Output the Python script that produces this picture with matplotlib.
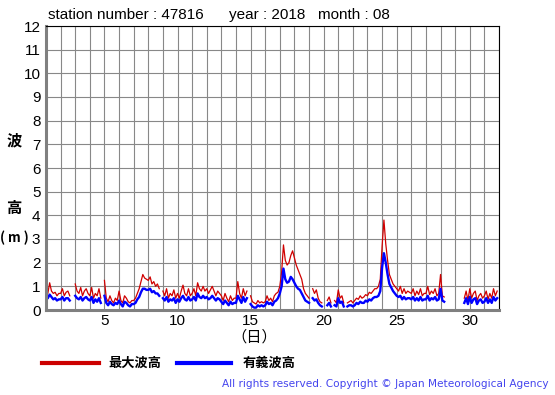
import numpy as np
import matplotlib
matplotlib.use('Agg')
import matplotlib.pyplot as plt
from matplotlib.lines import Line2D

nan = np.nan

# 3-hourly wave heights (m), August 2018, station 47816
# one row per day: 00,03,06,09,12,15,18,21h
hmax = [
    0.6, 0.7, 1.15, 0.8, 0.7, 0.75, 0.6, 0.7,     # 1
    0.7, 0.9, 0.6, 0.75, 0.8, 0.6, nan, nan,      # 2
    1.1, 0.8, 0.7, 0.95, 0.6, 0.8, 0.9, 0.7,      # 3
    0.6, 0.95, 0.5, 0.7, 0.6, 0.9, 0.5, nan,      # 4
    1.25, 0.5, 0.35, 0.6, 0.4, 0.3, 0.5, 0.4,     # 5
    0.8, 0.4, 0.3, 0.6, 0.5, 0.35, 0.3, 0.4,      # 6
    0.4, 0.5, 0.7, 0.9, 1.2, 1.5, 1.35, 1.3,      # 7
    1.25, 1.4, 1.1, 1.2, 1.0, 1.1, 0.9, nan,      # 8
    0.8, 0.6, 0.9, 0.5, 0.7, 0.6, 0.85, 0.5,      # 9
    0.7, 0.5, 0.8, 1.05, 0.7, 0.6, 0.9, 0.6,      # 10
    0.7, 0.9, 0.6, 1.15, 0.9, 0.8, 1.0, 0.8,      # 11
    0.9, 0.7, 0.85, 1.0, 0.8, 0.6, 0.8, 0.7,      # 12
    0.6, 0.4, 0.7, 0.5, 0.35, 0.6, 0.4, 0.5,      # 13
    0.5, 1.2, 0.7, 0.5, 0.9, 0.6, 0.8, nan,       # 14
    0.6, 0.35, 0.3, 0.25, 0.4, 0.3, 0.35, 0.3,    # 15
    0.35, 0.6, 0.4, 0.5, 0.35, 0.6, 0.7, 0.75,    # 16
    1.0, 1.6, 2.75, 2.1, 1.9, 2.0, 2.3, 2.5,      # 17
    2.2, 1.9, 1.7, 1.5, 1.3, 0.9, 0.7, 0.6,       # 18
    0.5, nan, 0.9, 0.7, 0.85, 0.5, 0.35, 0.3,     # 19
    nan, nan, 0.4, 0.55, 0.3, nan, 0.4, 0.3,      # 20
    0.85, 0.5, 0.6, 0.3, nan, 0.3, 0.35, 0.4,     # 21
    0.3, 0.4, 0.5, 0.45, 0.6, 0.5, 0.55, 0.65,    # 22
    0.6, 0.75, 0.7, 0.8, 0.9, 0.9, 1.0, 1.3,      # 23
    2.7, 3.8, 2.8, 2.1, 1.5, 1.3, 1.1, 1.0,       # 24
    0.9, 0.8, 1.0, 0.7, 0.9, 0.7, 0.8, 0.75,      # 25
    0.7, 0.9, 0.6, 0.8, 0.65, 0.9, 0.6, 0.7,      # 26
    0.7, 1.0, 0.65, 0.8, 0.7, 0.9, 0.6, 0.7,      # 27
    1.5, 0.6, 0.55, nan, nan, nan, nan, nan,      # 28
    nan, nan, nan, nan, nan, 0.5, 0.8, 0.4,       # 29
    0.9, 0.5, 0.7, 0.8, 0.4, 0.6, 0.7, 0.5,       # 30
    0.6, 0.8, 0.45, 0.7, 0.5, 0.9, 0.6, 0.8,      # 31
]
hsig = [
    0.45, 0.5, 0.65, 0.55, 0.45, 0.5, 0.4, 0.45,  # 1
    0.45, 0.55, 0.4, 0.5, 0.5, 0.4, nan, nan,     # 2
    0.6, 0.5, 0.45, 0.55, 0.4, 0.5, 0.55, 0.45,   # 3
    0.4, 0.55, 0.3, 0.45, 0.35, 0.5, 0.3, nan,    # 4
    0.6, 0.3, 0.2, 0.35, 0.25, 0.2, 0.3, 0.25,    # 5
    0.4, 0.25, 0.15, 0.35, 0.3, 0.2, 0.15, 0.25,  # 6
    0.25, 0.3, 0.45, 0.55, 0.75, 0.9, 0.9, 0.85,  # 7
    0.85, 0.9, 0.75, 0.8, 0.7, 0.7, 0.6, nan,     # 8
    0.5, 0.4, 0.55, 0.35, 0.45, 0.4, 0.5, 0.3,    # 9
    0.45, 0.35, 0.5, 0.6, 0.45, 0.4, 0.55, 0.4,   # 10
    0.45, 0.55, 0.4, 0.7, 0.55, 0.5, 0.6, 0.5,    # 11
    0.55, 0.45, 0.5, 0.6, 0.5, 0.4, 0.5, 0.45,    # 12
    0.35, 0.25, 0.4, 0.3, 0.2, 0.35, 0.25, 0.3,   # 13
    0.3, 0.6, 0.45, 0.3, 0.55, 0.35, 0.5, nan,    # 14
    0.25, 0.15, 0.1, 0.1, 0.2, 0.15, 0.2, 0.15,   # 15
    0.2, 0.35, 0.25, 0.3, 0.2, 0.35, 0.4, 0.5,    # 16
    0.7, 1.0, 1.75, 1.3, 1.15, 1.2, 1.4, 1.3,     # 17
    1.15, 1.0, 0.9, 0.85, 0.7, 0.55, 0.4, 0.35,   # 18
    0.3, nan, 0.5, 0.4, 0.45, 0.3, 0.2, 0.15,     # 19
    nan, nan, 0.2, 0.3, 0.15, nan, 0.2, 0.15,     # 20
    0.5, 0.3, 0.35, 0.15, nan, 0.15, 0.2, 0.2,    # 21
    0.15, 0.2, 0.3, 0.25, 0.35, 0.3, 0.3, 0.4,    # 22
    0.35, 0.45, 0.4, 0.5, 0.55, 0.55, 0.6, 0.8,   # 23
    1.8, 2.4, 2.0, 1.5, 1.1, 0.95, 0.8, 0.7,      # 24
    0.6, 0.55, 0.6, 0.45, 0.55, 0.45, 0.5, 0.5,   # 25
    0.45, 0.55, 0.4, 0.5, 0.4, 0.55, 0.4, 0.45,   # 26
    0.45, 0.6, 0.4, 0.5, 0.45, 0.55, 0.4, 0.45,   # 27
    0.9, 0.4, 0.35, nan, nan, nan, nan, nan,      # 28
    nan, nan, nan, nan, nan, 0.3, 0.5, 0.25,      # 29
    0.55, 0.3, 0.45, 0.5, 0.25, 0.4, 0.45, 0.3,   # 30
    0.35, 0.5, 0.3, 0.45, 0.3, 0.55, 0.4, 0.5,    # 31
]
xticks = [5, 10, 15, 20, 25, 30]
yticks = list(range(0, 13))

hmax = np.array(hmax, dtype=float)
hsig = np.array(hsig, dtype=float)
t = 1 + np.arange(len(hmax)) / 8.0

plt.rcParams['font.family'] = ['Liberation Sans', 'DejaVu Sans']
cjk = ['Noto Sans CJK JP', 'DejaVu Sans']

fig = plt.figure(figsize=(5.55, 3.95), dpi=100)
ax = fig.add_axes([46/555, 1-310/395, 453/555, 284/395])

ax.plot(t, hmax, color='#d00000', lw=0.9)
ax.plot(t, hsig, color='#0000ff', lw=1.7)

ax.set_xlim(1, 32)
ax.set_ylim(0, 12)
ax.set_xticks(np.arange(1, 33), minor=True)
ax.set_xticks(xticks)
ax.set_yticks(yticks)
ax.grid(True, which='both', color='#888888', lw=0.8)
ax.set_axisbelow(True)
ax.tick_params(which='both', length=0, labelsize=11, pad=4)
ax.tick_params(axis='x', pad=3)
for s in ['top', 'right']:
    ax.spines[s].set_color('black')
    ax.spines[s].set_linewidth(0.8)
for s in ['left', 'bottom']:
    ax.spines[s].set_color('#808080')
    ax.spines[s].set_linewidth(2.2)

# title
fig.text(48/555, 1-15/395, 'station number : 47816', fontsize=11, va='center')
fig.text(229/555, 1-15/395, 'year : 2018', fontsize=11, va='center')
fig.text(318/555, 1-15/395, 'month : 08', fontsize=11, va='center')

# y label
fig.text(14/555, 1-140/395, '波', family=cjk, fontsize=11, weight='bold', ha='center', va='center')
fig.text(14/555, 1-208/395, '高', family=cjk, fontsize=11, weight='bold', ha='center', va='center')
fig.text(14/555, 1-238/395, '( m )', family=cjk, fontsize=9.5, weight='bold', ha='center', va='center')
# x label
fig.text(254/555, 1-337/395, '（日）', family=cjk, fontsize=11, ha='center', va='center')

# legend
lines = [Line2D([42/555, 99/555], [1-363/395]*2, color='#cc0000', lw=3, transform=fig.transFigure),
         Line2D([177/555, 231/555], [1-363/395]*2, color='#0000ff', lw=3, transform=fig.transFigure)]
for ln in lines:
    fig.add_artist(ln)
fig.text(108/555, 1-363/395, '最大波高', family=cjk, fontsize=9.5, weight='bold', va='center')
fig.text(243/555, 1-363/395, '有義波高', family=cjk, fontsize=9.5, weight='bold', va='center')

fig.text(549/555, 1-384/395, 'All rights reserved. Copyright © Japan Meteorological Agency',
         fontsize=7.6, color='#4444ee', ha='right', va='center', family=['DejaVu Sans'])

fig.savefig('out.png', dpi=100)
